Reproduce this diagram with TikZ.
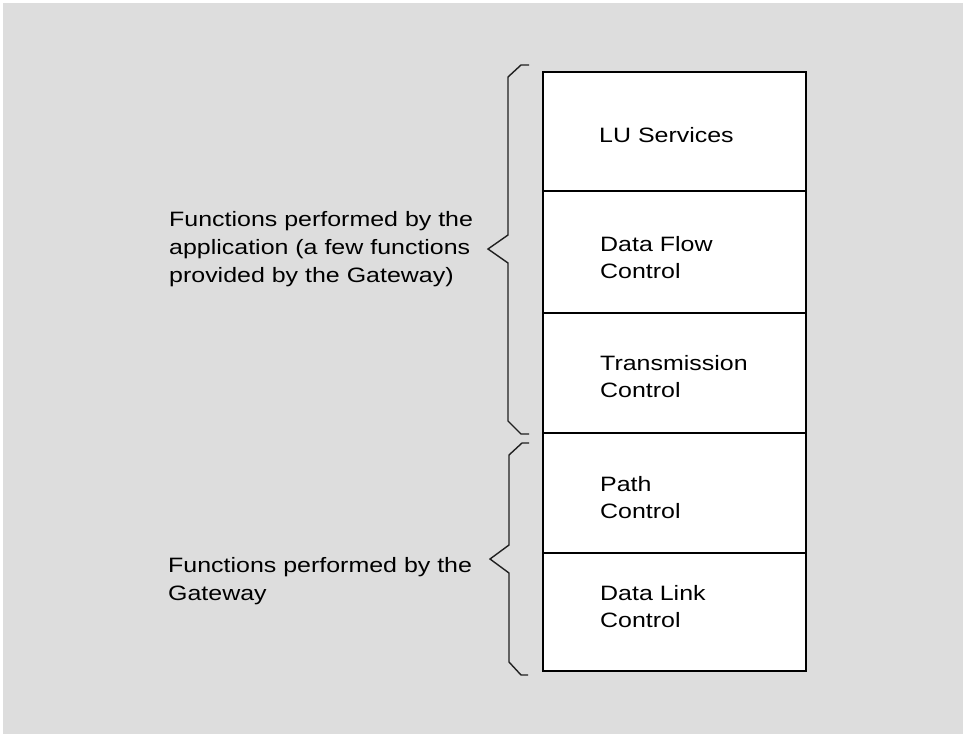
\documentclass[tikz,border=0pt]{standalone}
\usepackage{fontspec}
\setmainfont[FakeStretch=1.2]{Liberation Sans}
\definecolor{bggray}{HTML}{DDDDDD}
\definecolor{bracegray}{HTML}{202020}
\begin{document}
\begin{tikzpicture}[x=1pt,y=-1pt,
  sec/.style={draw=black,line width=1.3pt,fill=white,minimum width=263pt,inner sep=0pt,outer sep=0pt,anchor=north west},
  boxtext/.style={anchor=base west,inner sep=0pt,align=left,font=\fontsize{20.8}{26.5}\selectfont},
  sidetext/.style={anchor=base west,inner sep=0pt,align=left,font=\fontsize{20.8}{28}\selectfont},
  bracepath/.style={draw=bracegray,line width=1.4pt,line join=miter}]
\useasboundingbox (0,0) rectangle (963,734);
\fill[white] (0,0) rectangle (963,734);
\fill[bggray] (3,3) rectangle (963,734);
% stack of layers
\node[sec,minimum height=119pt] (s1) at (543,72) {};
\node[sec,minimum height=122pt] (s2) at (543,191) {};
\node[sec,minimum height=120pt] (s3) at (543,313) {};
\node[sec,minimum height=120pt] (s4) at (543,433) {};
\node[sec,minimum height=118pt] (s5) at (543,553) {};
\draw[line width=2.6pt] (s1.north west) rectangle (s5.south east);
% texts in layers (anchor = baseline of last line)
\node[boxtext] (t1) at (599,142) {LU Services};
\node[boxtext] (t2) at (600,278) {Data Flow\\Control};
\node[boxtext] (t3) at (600,397) {Transmission\\Control};
\node[boxtext] (t4) at (600,518) {Path\\Control};
\node[boxtext] (t5) at (600,627) {Data Link\\Control};
% braces
\draw[bracepath] (529,65) -- (521,65) -- (508,77) -- (508,235) -- (488,249) -- (508,263) -- (508,421) -- (521,434) -- (529,434);
\draw[bracepath] (529,443) -- (522,443) -- (509,455) -- (509,545) -- (490,559) -- (509,573) -- (509,662) -- (521,675) -- (528,675);
% side labels
\node[sidetext] (l1) at (169,282) {Functions performed by the\\application (a few functions\\provided by the Gateway)};
\node[sidetext] (l2) at (168,600) {Functions performed by the\\Gateway};
\end{tikzpicture}
\end{document}
